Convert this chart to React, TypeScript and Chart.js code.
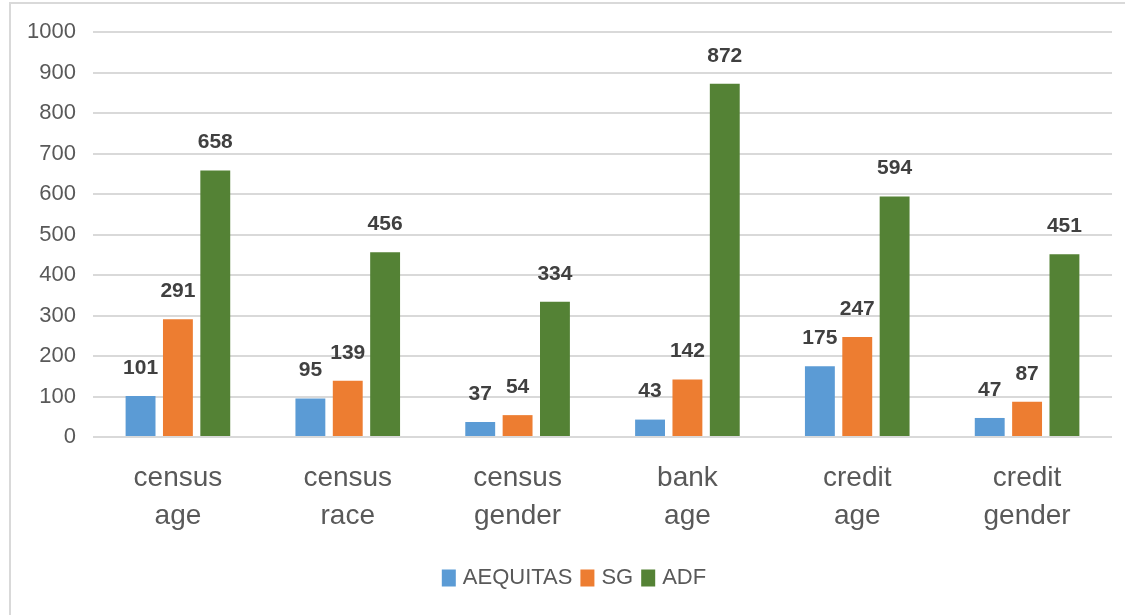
import React, { useEffect, useRef } from "react";
import { Chart, registerables } from "chart.js";

Chart.register(...registerables);

const categories: string[][] = [
  ["census", "age"],
  ["census", "race"],
  ["census", "gender"],
  ["bank", "age"],
  ["credit", "age"],
  ["credit", "gender"],
];
const seriesNames = ["AEQUITAS", "SG", "ADF"];
const aequitas = [101, 95, 37, 43, 175, 47];
const sg = [291, 139, 54, 142, 247, 87];
const adf = [658, 456, 334, 872, 594, 451];
const colors = ["#5B9BD5", "#ED7D31", "#548235"];
const yTicks = [0, 100, 200, 300, 400, 500, 600, 700, 800, 900, 1000];

const FONT = '"Liberation Sans", Arial, sans-serif';
const TEXT = "#595959";

const framePlugin = {
  id: "frame",
  beforeDraw(chart: any) {
    const ctx = chart.ctx;
    ctx.save();
    ctx.fillStyle = "#ffffff";
    ctx.fillRect(0, 0, chart.width, chart.height);
    ctx.strokeStyle = "#d9d9d9";
    ctx.lineWidth = 2;
    ctx.beginPath();
    ctx.moveTo(10, chart.height);
    ctx.lineTo(10, 3);
    ctx.lineTo(chart.width, 3);
    ctx.stroke();
    ctx.restore();
  },
};

const labelPlugin = {
  id: "valueLabels",
  afterDatasetsDraw(chart: any) {
    const ctx = chart.ctx;
    ctx.save();
    ctx.font = `bold 21px ${FONT}`;
    ctx.fillStyle = "#404040";
    ctx.textAlign = "center";
    ctx.textBaseline = "middle";
    chart.data.datasets.forEach((ds: any, i: number) => {
      const meta = chart.getDatasetMeta(i);
      meta.data.forEach((el: any, j: number) => {
        ctx.fillText(String(ds.data[j]), el.x, el.y - 28);
      });
    });
    ctx.restore();
  },
};

const legendPlugin = {
  id: "customLegend",
  afterDraw(chart: any) {
    const ctx = chart.ctx;
    ctx.save();
    ctx.font = `22px ${FONT}`;
    ctx.textBaseline = "middle";
    ctx.textAlign = "left";
    const boxW = 14;
    const boxH = 17;
    const gapText = 7;
    const gapItem = 8;
    const items = chart.data.datasets.map((ds: any) => ({
      label: ds.label,
      color: ds.backgroundColor,
      w: ctx.measureText(ds.label).width,
    }));
    const total = items.reduce(
      (s: number, it: any, i: number) => s + boxW + gapText + it.w + (i > 0 ? gapItem : 0),
      0
    );
    let x = 574 - total / 2;
    const cy = 578;
    items.forEach((it: any) => {
      ctx.fillStyle = it.color;
      ctx.fillRect(x, cy - boxH / 2, boxW, boxH);
      x += boxW + gapText;
      ctx.fillStyle = TEXT;
      ctx.fillText(it.label, x, cy);
      x += it.w + gapItem;
    });
    ctx.restore();
  },
};

export default function App() {
  const ref = useRef<HTMLCanvasElement>(null);
  useEffect(() => {
    if (!ref.current) return;
    const chart = new Chart(ref.current, {
      type: "bar",
      data: {
        labels: categories,
        datasets: [
          { label: seriesNames[0], data: aequitas, backgroundColor: colors[0] },
          { label: seriesNames[1], data: sg, backgroundColor: colors[1] },
          { label: seriesNames[2], data: adf, backgroundColor: colors[2] },
        ],
      },
      options: {
        responsive: false,
        animation: false,
        devicePixelRatio: 1,
        layout: { padding: { left: 10, top: 32, right: 13, bottom: 0 } },
        datasets: {
          bar: { categoryPercentage: 0.66, barPercentage: 0.8 },
        },
        plugins: {
          legend: { display: false },
          tooltip: { enabled: false },
        },
        scales: {
          x: {
            grid: { display: false, drawTicks: false },
            border: { display: false },
            ticks: {
              color: TEXT,
              font: { family: FONT, size: 28, lineHeight: 1.36 },
              padding: 22,
              maxRotation: 0,
              autoSkip: false,
            },
            afterFit: (s: any) => {
              s.height = 178;
            },
          },
          y: {
            min: 0,
            max: 1000,
            afterBuildTicks: (s: any) => {
              s.ticks = yTicks.map((v) => ({ value: v }));
            },
            grid: { color: "#d9d9d9", lineWidth: 2, drawTicks: false },
            border: { display: false },
            ticks: {
              color: TEXT,
              font: { family: FONT, size: 22 },
              padding: 17,
              callback: (v: any) => String(v),
            },
            afterFit: (s: any) => {
              s.width = 83;
            },
          },
        },
      },
      plugins: [framePlugin, labelPlugin, legendPlugin],
    });
    return () => chart.destroy();
  }, []);
  return (
    <div style={{ position: "fixed", left: 0, top: 0, width: 1125, height: 615 }}>
      <canvas ref={ref} width={1125} height={615} style={{ display: "block" }} />
    </div>
  );
}
